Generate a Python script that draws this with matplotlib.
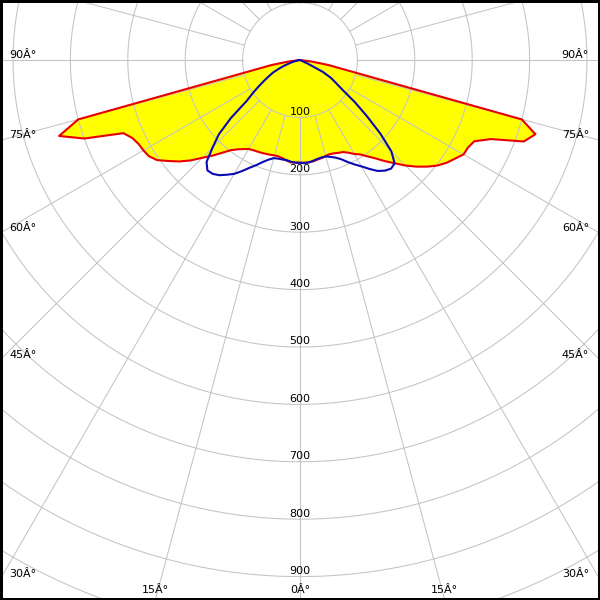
import numpy as np
import matplotlib
matplotlib.use("Agg")
import matplotlib.pyplot as plt
from matplotlib.patches import Rectangle

# ---------------- data (cd/klm) ----------------
gamma = [0, 2.5, 5, 7.5, 10, 12.5, 15, 17.5, 20, 22.5, 25, 27.5, 30, 32.5, 35,
         37.5, 40, 42.5, 45, 47.5, 50, 52.5, 55, 57.5, 60, 62.5, 65, 67.5, 70,
         72.5, 75, 77.5, 80, 82.5, 85, 87.5, 90]

# red curve (filled yellow): right half and left half
red_right = [179, 179, 179, 178, 176, 175, 173, 172, 173, 175, 177, 182, 189, 195, 205,
             216, 230, 244, 260, 275, 289, 302, 312, 320, 329, 330, 335, 360, 415,
             430, 400, 89, 50, 20, 0, 0, 0]
red_left = [179, 179, 179, 177, 174, 172, 172, 173, 174, 175, 176, 177, 179, 184, 190,
            198, 211, 226, 241, 259, 275, 289, 304, 312, 315, 317, 322, 333, 400,
            440, 400, 89, 50, 20, 0, 0, 0]

# blue curve: right half and left half
blue_right = [179, 180, 179, 177, 175, 174, 174, 177, 181, 187, 196, 205, 214, 225, 236,
              243, 247, 244, 225, 190, 152, 120, 90, 74, 62, 45, 15, 0, 0,
              0, 0, 0, 0, 0, 0, 0, 0]
blue_left = [179, 179, 178, 176, 176, 176, 177, 182, 189, 198, 207, 218, 229, 237, 245,
             250, 251, 241, 215, 192, 157, 117, 100, 85, 72, 61, 52, 40, 30,
             20, 13, 7, 3, 0, 0, 0, 0]

ring_values = [100, 200, 300, 400, 500, 600, 700, 800, 900]
ring_labels = ["100", "200", "300", "400", "500", "600", "700", "800", "900"]
side_angles = [90, 75, 60, 45, 30]
bottom_angles = [-15, 0, 15]

# ---------------- figure ----------------
W = H = 600
fig = plt.figure(figsize=(6, 6), dpi=100)
fig.patch.set_facecolor("white")

cx, cy = 300, 60          # pole position in pixels (from top)
px_per_unit = 0.574
rmax = 1100
R = rmax * px_per_unit
ax = fig.add_axes([(cx - R) / W, (H - cy - R) / H, 2 * R / W, 2 * R / H],
                  projection="polar")
ax.set_theta_zero_location("S")
ax.set_theta_direction(1)
ax.set_facecolor("white")
ax.spines["polar"].set_visible(False)
ax.set_xticks([])
ax.set_yticks([])
ax.grid(False)


def full_curve(left, right):
    g = np.asarray(gamma, dtype=float)
    th = np.concatenate([-g[::-1], g[1:]])
    rr = np.concatenate([np.asarray(left, float)[::-1], np.asarray(right, float)[1:]])
    return np.radians(th), rr


th_red, r_red = full_curve(red_left, red_right)
th_blue, r_blue = full_curve(blue_left, blue_right)

ax.fill(th_red, r_red, color="#ffff00", zorder=1, lw=0)

gridc = "#c4c4c4"
tt = np.linspace(0, 2 * np.pi, 721)
for rv in range(100, 1101, 100):
    ax.plot(tt, np.full_like(tt, rv), color=gridc, lw=0.75, zorder=2)
for a in range(0, 360, 15):
    ax.plot([np.radians(a)] * 2, [100, rmax], color=gridc, lw=0.75, zorder=2)

ax.plot(th_red, r_red, color="#e80000", lw=1.5, zorder=3,
        solid_joinstyle="round", solid_capstyle="round")
ax.plot(th_blue, r_blue, color="#0a0ab4", lw=1.5, zorder=4,
        solid_joinstyle="round", solid_capstyle="round")

ax.set_ylim(0, rmax)

fs = 8
for rv, lab in zip(ring_values, ring_labels):
    ax.annotate(lab, xy=(0, rv), xytext=(0, 1.8), textcoords="offset points",
                ha="center", va="baseline", fontsize=fs, color="black", zorder=5)

# angle labels at frame edges
for a in side_angles:
    if a == 90:
        ye = cy
    else:
        ye = cy + cx / np.tan(np.radians(a))
    yb = ye - 2.5
    fig.text(9 / W, 1 - yb / H, f"{a}Â°", ha="left", va="baseline", fontsize=fs)
    fig.text(589 / W, 1 - yb / H, f"{a}Â°", ha="right", va="baseline", fontsize=fs)
for a in bottom_angles:
    xe = cx + (H - cy) * np.tan(np.radians(a))
    fig.text(xe / W, 1 - 593 / H, f"{abs(a)}Â°", ha="center", va="baseline", fontsize=fs)

fig.patches.append(Rectangle((0, 0), 1, 1, transform=fig.transFigure, fill=False,
                             edgecolor="black", lw=3.6, zorder=10))

fig.savefig("out.png", dpi=100, facecolor="white")
